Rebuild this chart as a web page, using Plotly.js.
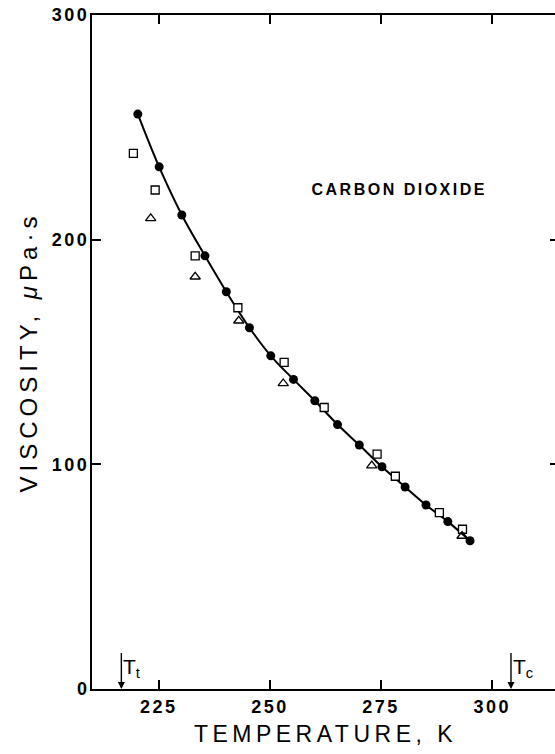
<!DOCTYPE html>
<html>
<head>
<meta charset="utf-8">
<script src="https://cdn.plot.ly/plotly-3.0.1.min.js"></script>
<style>
  html, body { margin: 0; padding: 0; overflow: hidden; background: #fff; }
  #chart { width: 560px; height: 754px; }
  .xtick text, .ytick text { letter-spacing: 2.5px; }
  .xtitle { letter-spacing: 4.5px; }
  .ytitle { letter-spacing: 5px; }
  g.annotation[data-index="0"] text { letter-spacing: 2.5px; }
</style>
</head>
<body>
<div id="chart"></div>
<script>
// Filled circles (with fitted curve)
const circleT = [220.3, 225.1, 230.2, 235.4, 240.2, 245.4, 250.2, 255.3, 260.1, 265.2, 270.1, 275.2, 280.4, 285.1, 290.0, 295.0];
const circleV = [255.9, 232.4, 211.0, 192.8, 176.8, 160.8, 148.3, 137.8, 128.3, 117.7, 108.6, 98.9, 89.9, 81.9, 74.5, 66.0];
// Open squares
const squareT = [219.3, 224.2, 233.2, 242.8, 253.2, 262.2, 274.1, 278.2, 288.1, 293.3];
const squareV = [238.4, 222.1, 192.8, 169.7, 145.4, 125.3, 104.5, 94.7, 78.5, 71.1];
// Open triangles
const triT = [223.2, 233.2, 243.0, 253.0, 272.9, 293.2];
const triV = [209.5, 183.5, 163.9, 136.0, 99.4, 68.1];
// Ticks
const xTicks = [225, 250, 275, 300];
const yTicks = [0, 100, 200, 300];
// Reference temperatures
const tripleT = 216.6;
const criticalT = 304.2;

const fontFam = '"Liberation Sans", Arial, Helvetica, sans-serif';

const traces = [
  { x: circleT, y: circleV, mode: 'lines', line: { color: '#000', width: 2, shape: 'spline', smoothing: 1 }, hoverinfo: 'skip', showlegend: false },
  { x: squareT, y: squareV, mode: 'markers', marker: { symbol: 'square', size: 8, color: '#fff', line: { color: '#000', width: 1.3 } }, showlegend: false },
  { x: triT, y: triV, mode: 'markers', marker: { symbol: 'triangle-up-open', size: 9, color: '#000', line: { color: '#000', width: 1.3 } }, showlegend: false },
  { x: circleT, y: circleV, mode: 'markers', marker: { symbol: 'circle', size: 9, color: '#000' }, showlegend: false }
];

const axisCommon = {
  ticks: 'inside', ticklen: 9, tickwidth: 2, tickcolor: '#000',
  showline: true, linecolor: '#000', linewidth: 2, mirror: 'ticks',
  showgrid: false, zeroline: false,
  tickfont: { family: fontFam, size: 18, color: '#000', weight: 'bold' }
};

const layout = {
  width: 560, height: 754,
  margin: { l: 92, r: 1, t: 15, b: 65 },
  paper_bgcolor: '#fff', plot_bgcolor: '#fff',
  xaxis: Object.assign({}, axisCommon, {
    range: [210, 315], tickvals: xTicks, ticktext: xTicks.map(String),
    title: { text: 'TEMPERATURE, K', font: { family: fontFam, size: 23, color: '#000' }, standoff: 10 }
  }),
  yaxis: Object.assign({}, axisCommon, {
    range: [0, 300], tickvals: yTicks, ticktext: yTicks.map(String),
    ticklabelstandoff: -3,
    title: { text: 'VISCOSITY, <i>μ</i>Pa·s', font: { family: fontFam, size: 24, color: '#000' }, standoff: 7 }
  }),
  annotations: [
    { x: 279.1, y: 222.5, xref: 'x', yref: 'y', text: 'CARBON DIOXIDE', showarrow: false, xanchor: 'center', yanchor: 'middle', align: 'center',
      font: { family: fontFam, size: 16, color: '#000', weight: 'bold' } },
    { x: tripleT, y: 0, xref: 'x', yref: 'y', text: 'T<sub>t</sub>', showarrow: true, ax: 0, ay: -36, xanchor: 'left', yanchor: 'top',
      arrowhead: 2, arrowsize: 1, arrowwidth: 1.4, arrowcolor: '#000', standoff: 0,
      font: { family: fontFam, size: 21, color: '#000' } },
    { x: criticalT, y: 0, xref: 'x', yref: 'y', text: 'T<sub>c</sub>', showarrow: true, ax: 0, ay: -36, xanchor: 'left', yanchor: 'top',
      arrowhead: 2, arrowsize: 1, arrowwidth: 1.4, arrowcolor: '#000', standoff: 0,
      font: { family: fontFam, size: 21, color: '#000' } }
  ]
};

Plotly.newPlot('chart', traces, layout, { staticPlot: true, displayModeBar: false });
</script>
</body>
</html>
